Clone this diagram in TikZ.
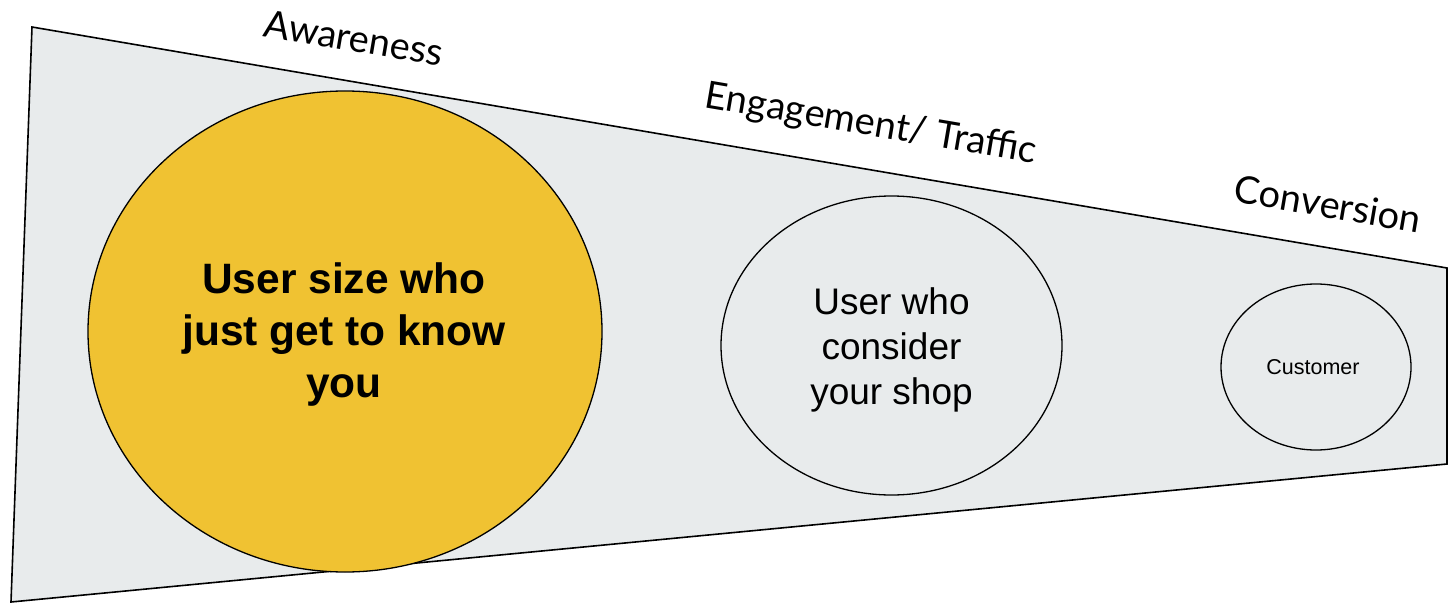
\documentclass[tikz,border=0pt]{standalone}
\usepackage{fontspec}
\setmainfont{Liberation Sans}
\newfontfamily\latofont{Lato}
\usetikzlibrary{shapes.geometric}
\definecolor{funnelgrey}{HTML}{E8EBEC}
\definecolor{stageyellow}{HTML}{F0C232}
\tikzset{
  stage/.style={ellipse, draw=black, line width=1.3pt, inner sep=0pt, align=center},
  stagelabel/.style={font=\latofont\fontsize{38}{44}\selectfont, rotate=-9.7, inner sep=0pt},
}
\begin{document}
\begin{tikzpicture}[x=1pt,y=-1pt]
\useasboundingbox (0,0) rectangle (1448,604);
\coordinate (tl) at (32,27);
\coordinate (bl) at (11,602);
\coordinate (tr) at (1447,268);
\coordinate (br) at (1447,464);
\draw[fill=funnelgrey, line width=1.6pt, line join=miter] (tl) -- (tr) -- (br) -- (bl) -- cycle;
\node[stage, fill=stageyellow, minimum width=514pt, minimum height=481pt] (aware) at (345,331.5) {};
\node[align=center, font=\bfseries\fontsize{42.5}{52}\selectfont] (awaretext) at (344,335)
  {User size who\\just get to know\\you};
\node[stage, fill=funnelgrey, minimum width=341pt, minimum height=299pt] (engage) at (891.5,345.5) {};
\node[align=center, font=\fontsize{37}{45}\selectfont] (engagetext) at (891.5,350)
  {User who\\consider\\your shop};
\node[stage, fill=funnelgrey, minimum width=190pt, minimum height=166pt] (cust) at (1316,367) {};
\node[font=\fontsize{21.5}{26}\selectfont] (custtext) at (1313,367.5) {Customer};
\node[stagelabel] (lab1) at (354,38) {Awareness};
\node[stagelabel] (lab2) at (871,125) {Engagement/ Traffic};
\node[stagelabel] (lab3) at (1328,204) {Conversion};
\end{tikzpicture}
\end{document}
